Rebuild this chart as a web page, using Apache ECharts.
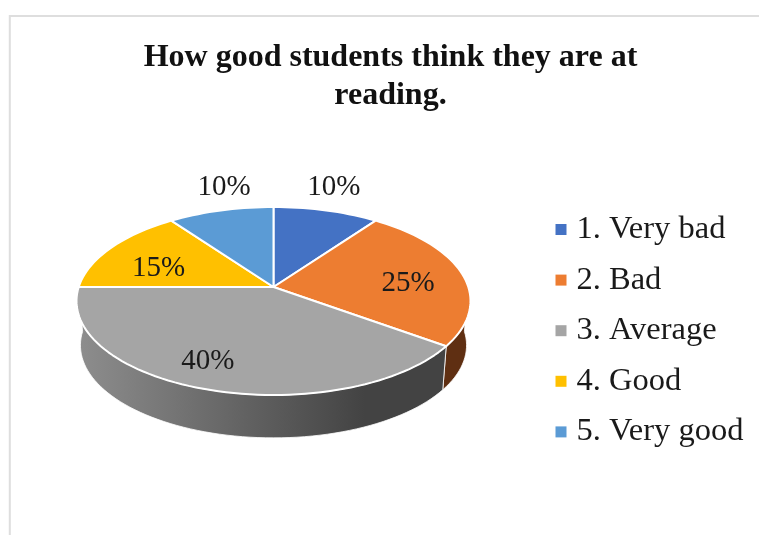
<!DOCTYPE html>
<html>
<head>
<meta charset="utf-8">
<title>How good students think they are at reading.</title>
<script src="https://cdn.jsdelivr.net/npm/echarts@6/dist/echarts.min.js"></script>
<style>
    html, body { margin: 0; padding: 0; background: #fff; }
    #chart { width: 759px; height: 535px; }
</style>
</head>
<body>
<div id="chart"></div>
<script>
var categories = ['1. Very bad', '2. Bad', '3. Average', '4. Good', '5. Very good'];
var shares = [10, 25, 40, 15, 10];

var palette = ['#4472c4', '#ed7d31', '#a5a5a5', '#ffc000', '#5b9bd5'];
var serifFont = '"Liberation Serif", "Times New Roman", serif';

// the tilted disc: a circle seen through a small perspective
var disc = { cx: 273.5, cy: 287, rx: 194.8, ry: 91.9, persp: 0.149, depth: 44.5, floorX: 0.98, floorY: 0.985 };

// label placement, radial factor + small nudge, Word "best fit" is not regular
var labelRadius = [1.4, 0.7, 0.74, 0.7, 1.4];
var labelNudge = [[-10, 2], [2, 6], [-16, 2], [1, 9], [21, 2]];

var total = shares.reduce(function (sum, item) { return sum + item; }, 0);

function sliceAngles(index) {
    var before = 0;
    for (var i = 0; i < index; i++) {
        before += shares[i];
    }
    return [before / total * 360, (before + shares[index]) / total * 360];
}

function project(angle, radius, floor) {
    var rad = angle * Math.PI / 180;
    var u = Math.sin(rad) * radius;
    var v = Math.cos(rad) * radius;
    var w = 1 + disc.persp * v;
    return [
        disc.cx + disc.rx * (floor ? disc.floorX : 1) * u / w,
        disc.cy + (floor ? disc.depth : 0) - disc.ry * (floor ? disc.floorY : 1) * v / w
    ];
}

function arcPoints(from, to, floor) {
    var points = [];
    var steps = Math.max(2, Math.ceil(Math.abs(to - from) / 2));
    for (var i = 0; i <= steps; i++) {
        points.push(project(from + (to - from) * i / steps, 1, floor));
    }
    return points;
}

function wallFill(index) {
    if (index === 2) {
        return new echarts.graphic.LinearGradient(1, 0, 0, 0, [
            { offset: 0, color: '#434343' },
            { offset: 0.22, color: '#434343' },
            { offset: 1, color: '#8e8e8e' }
        ]);
    }
    return '#5f2f12';
}

function renderSlice(index) {
    return function () {
        var angles = sliceAngles(index);
        var children = [];
        // only the front half of the rim shows a wall
        var wallFrom = Math.max(angles[0], 90);
        var wallTo = Math.min(angles[1], 270);
        if (wallFrom < wallTo) {
            var wall = arcPoints(wallFrom, wallTo, false).concat(arcPoints(wallTo, wallFrom, true));
            children.push({
                type: 'polygon',
                z2: 1,
                shape: { points: wall },
                style: { fill: wallFill(index), stroke: '#fff', lineWidth: 0.8 }
            });
        }
        var top = [project(0, 0, false)].concat(arcPoints(angles[0], angles[1], false));
        children.push({
            type: 'polygon',
            z2: 2,
            shape: { points: top },
            style: { fill: palette[index], stroke: '#fff', lineWidth: 2, lineJoin: 'round' }
        });
        var anchor = project((angles[0] + angles[1]) / 2, labelRadius[index], false);
        children.push({
            type: 'text',
            z2: 10,
            style: {
                x: anchor[0] + labelNudge[index][0],
                y: anchor[1] + labelNudge[index][1],
                text: shares[index] + '%',
                fill: '#1a1a1a',
                font: '29px ' + serifFont,
                align: 'center',
                verticalAlign: 'middle'
            }
        });
        return { type: 'group', children: children };
    };
}

var chart = echarts.init(document.getElementById('chart'));
chart.setOption({
    animation: false,
    color: palette,
    title: {
        text: 'How good students think they are at\nreading.',
        left: 385.5,
        top: 34,
        textAlign: 'center',
        textStyle: {
            fontFamily: serifFont,
            fontWeight: 'bold',
            fontSize: 32,
            lineHeight: 38,
            color: '#111'
        }
    },
    legend: {
        orient: 'vertical',
        left: 550.5,
        top: 205,
        itemWidth: 11,
        itemHeight: 11,
        itemGap: 11.6,
        icon: 'rect',
        selectedMode: false,
        data: categories,
        textStyle: {
            fontFamily: serifFont,
            fontSize: 32.5,
            lineHeight: 39,
            color: '#1a1a1a',
            padding: [0, 0, 0, 5]
        }
    },
    graphic: [{
        type: 'rect',
        silent: true,
        shape: { x: 9.8, y: 16, width: 800, height: 600 },
        style: { fill: 'none', stroke: '#dedede', lineWidth: 2 }
    }],
    series: categories.map(function (name, index) {
        return {
            name: name,
            type: 'custom',
            coordinateSystem: 'none',
            silent: true,
            renderItem: renderSlice(index),
            data: [[shares[index]]]
        };
    })
});
</script>
</body>
</html>
